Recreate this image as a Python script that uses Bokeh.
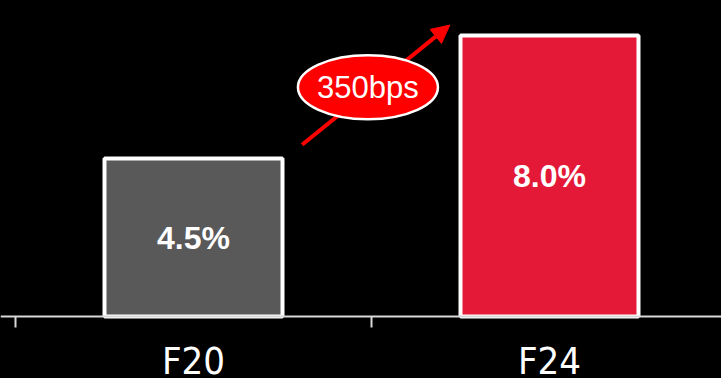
from bokeh.plotting import figure
from bokeh.models import ColumnDataSource, FixedTicker, Arrow, NormalHead, Range1d
from bokeh.core.properties import value
from bokeh.embed import file_html
from bokeh.resources import INLINE

# Margin by fiscal year (%)
categories = ["F20", "F24"]
margins = [4.5, 8.0]
bar_colors = ["#595959", "#e31937"]

centers = [i + 0.5 for i in range(len(categories))]
labels = [f"{v:.1f}%" for v in margins]
change_bps = round((margins[1] - margins[0]) * 100)

PX_PER_X = 356.0
PX_PER_UNIT = 35.11
p = figure(width=721, height=378, output_backend="svg", toolbar_location=None,
           x_range=Range1d(-15 / PX_PER_X, 706 / PX_PER_X),
           y_range=Range1d(-62 / PX_PER_UNIT, 316 / PX_PER_UNIT),
           y_axis_location=None, min_border_left=0, min_border_right=0,
           min_border_top=0, min_border_bottom=0)
p.background_fill_color = "black"
p.border_fill_color = "black"
p.outline_line_color = None
p.grid.visible = False
p.styles = {"background-color": "black"}

src = ColumnDataSource(dict(x=centers, top=margins, color=bar_colors,
                            label=labels, mid=[v / 2 for v in margins]))
p.vbar(x="x", top="top", bottom=0, width=0.5, source=src, fill_color="color",
       line_color="white", line_width=4)
p.text(x="x", y="mid", text="label", source=src, text_color="white",
       text_font=value("Liberation Sans"), text_font_style="bold",
       text_font_size="32px", text_align="center", text_baseline="middle")

# Growth arrow between the two bars, kept beneath the badge
bar_half = 0.25
arrow = Arrow(x_start=centers[0] + bar_half + 0.055, y_start=margins[0] + 0.39,
              x_end=centers[1] - bar_half - 0.03, y_end=margins[1] + 0.30,
              line_color="#ff0000", line_width=4, level="underlay",
              end=NormalHead(size=18, fill_color="#ff0000", line_color="#ff0000"))
p.add_layout(arrow)

# Change badge
bx = (centers[0] + centers[1]) / 2 - 0.01
by = (margins[0] + margins[1]) / 2 + 0.28
p.ellipse(x=[bx], y=[by], width=140, height=64, width_units="screen",
          height_units="screen", fill_color="#ff0000", line_color="white",
          line_width=2.5)
p.text(x=[bx], y=[by], text=[f"{change_bps}bps"], text_color="white",
       text_font=value("Liberation Sans"), text_font_size="31px",
       text_align="center", text_baseline="middle")

# Category axis at zero: boundaries as minor ticks, names at centers
ax = p.xaxis[0]
ax.fixed_location = 0
ax.ticker = FixedTicker(ticks=centers, minor_ticks=list(range(len(categories) + 1)))
ax.major_label_overrides = {c: n for c, n in zip(centers, categories)}
ax.major_tick_out = 0
ax.major_tick_in = 0
ax.minor_tick_out = 11
ax.minor_tick_in = 0
ax.minor_tick_line_color = "#d9d9d9"
ax.minor_tick_line_width = 2
ax.axis_line_color = "#d9d9d9"
ax.axis_line_width = 2
ax.major_label_text_color = "white"
ax.major_label_text_font = "DejaVu Sans Condensed"
ax.major_label_text_font_size = "38px"
ax.major_label_standoff = 11

open("out.html", "w").write(file_html(p, INLINE))
